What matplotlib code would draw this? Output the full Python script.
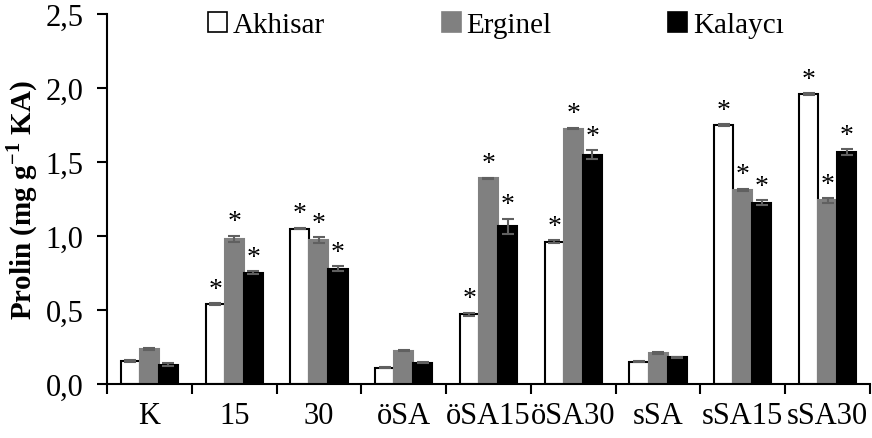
import numpy as np
import matplotlib.pyplot as plt
from matplotlib.patches import Patch

plt.rcParams['font.family'] = ['Liberation Serif', 'DejaVu Serif']
plt.rcParams['mathtext.fontset'] = 'custom'
plt.rcParams['mathtext.rm'] = 'Liberation Serif'
plt.rcParams['mathtext.bf'] = 'Liberation Serif:bold'

# groups and series
groups = ['K', '15', '30', 'öSA', 'öSA15', 'öSA30', 'sSA', 'sSA15', 'sSA30']
akhisar = [0.155, 0.54, 1.05, 0.11, 0.47, 0.96, 0.15, 1.75, 1.96]
erginel = [0.235, 0.98, 0.97, 0.225, 1.39, 1.725, 0.21, 1.31, 1.24]
kalayci = [0.13, 0.75, 0.78, 0.145, 1.065, 1.55, 0.18, 1.225, 1.565]
akhisar_err = [0.005, 0.005, 0.005, 0.004, 0.01, 0.01, 0.004, 0.005, 0.005]
erginel_err = [0.006, 0.02, 0.02, 0.005, 0.005, 0.005, 0.005, 0.008, 0.015]
kalayci_err = [0.01, 0.01, 0.015, 0.005, 0.05, 0.03, 0.005, 0.015, 0.02]
# significance stars (group has them for every series)
signif = [False, True, True, False, True, True, False, True, True]

series = [
    ('Akhisar', akhisar, akhisar_err, 'white', 'black'),
    ('Erginel', erginel, erginel_err, '#808080', '#808080'),
    ('Kalaycı', kalayci, kalayci_err, 'black', 'black'),
]

fig = plt.figure(figsize=(8.72, 4.39), dpi=100)
ax = fig.add_axes([0.1227, 0.123, 0.875, 0.843])

x = np.arange(len(groups))
w = 0.225
for i, (name, vals, errs, fc, ec) in enumerate(series):
    pos = x + (i - 1) * w
    ax.bar(pos, vals, width=w, color=fc, edgecolor=ec, linewidth=1.5,
           yerr=errs, error_kw=dict(ecolor='#606060', capsize=4, elinewidth=1.5, capthick=1.5),
           label=name)
    for p, v, e, s in zip(pos, vals, errs, signif):
        if s:
            ax.text(p, v + e + 0.01, '*', ha='center', va='bottom', fontsize=20)

ax.set_xlim(-0.5, len(groups) - 0.5)
ax.set_ylim(0, 2.5)
ax.set_yticks(np.arange(0, 2.51, 0.5))
ax.set_yticklabels([f'{v:.1f}'.replace('.', ',') for v in np.arange(0, 2.51, 0.5)], fontsize=22)
ax.set_xticks(np.arange(len(groups) + 1) - 0.5)
ax.set_xticklabels([])
ax.set_xticks(x, minor=True)
ax.set_xticklabels(groups, minor=True, fontsize=22)
ax.tick_params(axis='x', which='minor', length=0, pad=12)
ax.tick_params(axis='both', which='major', length=7, width=1.5, direction='out')
ax.tick_params(axis='y', which='major', pad=10)

for sp in ['top', 'right']:
    ax.spines[sp].set_visible(False)
for sp in ['left', 'bottom']:
    ax.spines[sp].set_linewidth(1.5)

ax.set_ylabel(r'Prolin (mg g$^{\mathbf{-1}}$ KA)', fontsize=21, fontweight='bold', labelpad=4)

handles = [Patch(facecolor=fc, edgecolor=ec, linewidth=1.2) for _, _, _, fc, ec in series]
ax.legend(handles, [s[0] for s in series], loc='upper center', bbox_to_anchor=(0.51, 1.075),
          ncol=3, frameon=False, fontsize=21, handlelength=0.65, handleheight=0.65,
          handletextpad=0.2, columnspacing=4.0)

fig.savefig('out.png', dpi=100)
